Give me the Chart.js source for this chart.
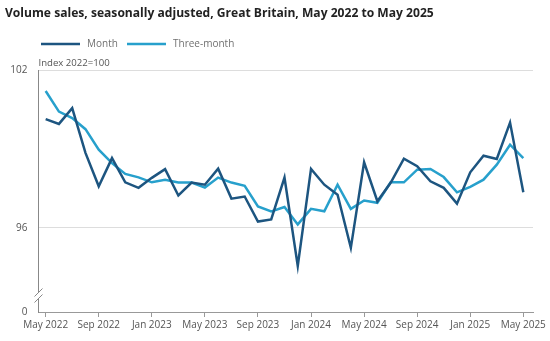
<!DOCTYPE html>
<html>
<head>
<meta charset="utf-8">
<script src="https://cdn.jsdelivr.net/npm/chart.js@4"></script>
<style>
  html, body { margin: 0; padding: 0; background: #fff; }
  #wrap { width: 550px; height: 341px; position: relative; }
</style>
</head>
<body>
<div id="wrap"><canvas id="c" width="550" height="341"></canvas></div>
<script>
// Monthly periods, May 2022 to May 2025
const months = [
  'May 2022','Jun 2022','Jul 2022','Aug 2022','Sep 2022','Oct 2022','Nov 2022','Dec 2022',
  'Jan 2023','Feb 2023','Mar 2023','Apr 2023','May 2023','Jun 2023','Jul 2023','Aug 2023',
  'Sep 2023','Oct 2023','Nov 2023','Dec 2023','Jan 2024','Feb 2024','Mar 2024','Apr 2024',
  'May 2024','Jun 2024','Jul 2024','Aug 2024','Sep 2024','Oct 2024','Nov 2024','Dec 2024',
  'Jan 2025','Feb 2025','Mar 2025','Apr 2025','May 2025'
];

// Volume index, 2022 = 100
const monthValues = [
  100.13, 99.95, 100.55, 98.85, 97.58, 98.65, 97.73, 97.52,
  97.90, 98.23, 97.23, 97.72, 97.64, 98.25, 97.11, 97.19,
  96.24, 96.32, 97.91, 94.55, 98.24, 97.64, 97.26, 95.24,
  98.49, 97.01, 97.71, 98.63, 98.34, 97.77, 97.52, 96.92,
  98.11, 98.74, 98.62, 100.00, 97.35
];
const threeMonthValues = [
  101.20, 100.42, 100.17, 99.75, 98.97, 98.46, 98.05, 97.92,
  97.73, 97.83, 97.72, 97.72, 97.53, 97.91, 97.72, 97.60,
  96.81, 96.62, 96.79, 96.13, 96.72, 96.63, 97.64, 96.72,
  97.04, 96.95, 97.73, 97.73, 98.21, 98.24, 97.93, 97.35,
  97.56, 97.83, 98.40, 99.16, 98.65
];

// Labelled x ticks (every fourth month) and y ticks
const xTickLabels = ['May 2022','Sep 2022','Jan 2023','May 2023','Sep 2023','Jan 2024','May 2024','Sep 2024','Jan 2025','May 2025'];
const yTickValues = [96, 102];
const yAxisBase = 92.8;   // bottom of the broken axis, labelled as zero

const COLOR_MONTH = '#1d5580';
const COLOR_THREE = '#27A0CC';
const FONT = '"Open Sans", "Noto Sans", sans-serif';

const toPoints = vals => vals.map((v, i) => ({ x: i, y: v }));

// Title, legend, unit label and the axis break mark
const decorations = {
  id: 'decorations',
  beforeDraw(chart) {
    const ctx = chart.ctx;
    ctx.save();
    ctx.fillStyle = '#fff';
    ctx.fillRect(0, 0, chart.width, chart.height);
    ctx.restore();
  },
  afterDraw(chart) {
    const ctx = chart.ctx;
    const area = chart.chartArea;
    const yScale = chart.scales.y;
    ctx.save();

    // Title
    ctx.fillStyle = '#222';
    ctx.font = 'bold 12.1px ' + FONT;
    ctx.textBaseline = 'middle';
    ctx.textAlign = 'left';
    ctx.fillText('Volume sales, seasonally adjusted, Great Britain, May 2022 to May 2025', 5, 14);

    // Legend
    const items = [
      { label: 'Month', color: COLOR_MONTH, x: 41 },
      { label: 'Three-month', color: COLOR_THREE, x: 127 }
    ];
    ctx.font = '10px ' + FONT;
    items.forEach(it => {
      ctx.strokeStyle = it.color;
      ctx.lineWidth = 2.5;
      ctx.beginPath();
      ctx.moveTo(it.x, 44);
      ctx.lineTo(it.x + 39, 44);
      ctx.stroke();
      ctx.fillStyle = '#707070';
      ctx.fillText(it.label, it.x + 46, 44);
    });

    // Unit label
    ctx.fillStyle = '#555';
    ctx.font = '9.6px ' + FONT;
    ctx.fillText('Index 2022=100', area.left, 63);

    // Break in the y axis
    const bx = area.left;
    const by = yScale.getPixelForValue(yAxisBase) - 16.5;
    ctx.fillStyle = '#fff';
    ctx.fillRect(bx - 2, by - 3, 4, 6);
    ctx.strokeStyle = '#888';
    ctx.lineWidth = 1;
    [-3, 3].forEach(d => {
      ctx.beginPath();
      ctx.moveTo(bx - 4, by + d + 4);
      ctx.lineTo(bx + 4, by + d - 4);
      ctx.stroke();
    });
    ctx.restore();
  }
};

new Chart(document.getElementById('c'), {
  type: 'line',
  data: {
    datasets: [
      {
        label: 'Month',
        data: toPoints(monthValues),
        borderColor: COLOR_MONTH,
        backgroundColor: COLOR_MONTH,
        borderWidth: 2.5,
        pointRadius: 0,
        tension: 0
      },
      {
        label: 'Three-month',
        data: toPoints(threeMonthValues),
        borderColor: COLOR_THREE,
        backgroundColor: COLOR_THREE,
        borderWidth: 2.5,
        pointRadius: 0,
        tension: 0
      }
    ]
  },
  options: {
    responsive: false,
    animation: false,
    devicePixelRatio: 1,
    layout: { padding: { top: 70, right: 17, bottom: 0, left: 0 } },
    plugins: {
      legend: { display: false },
      tooltip: { enabled: false }
    },
    scales: {
      x: {
        type: 'linear',
        min: -0.54,
        max: 36.73,
        afterBuildTicks(scale) {
          scale.ticks = xTickLabels.map(l => ({ value: months.indexOf(l) }));
        },
        afterFit(scale) { scale.height = 29; },
        ticks: {
          autoSkip: false,
          maxRotation: 0,
          padding: 2,
          color: '#555',
          font: { family: FONT, size: 10 },
          callback: v => months[v]
        },
        grid: {
          drawOnChartArea: false,
          drawTicks: true,
          tickLength: 5,
          color: '#999'
        },
        border: { display: true, color: '#999', width: 1 }
      },
      y: {
        min: yAxisBase,
        max: 102,
        afterBuildTicks(scale) {
          scale.ticks = [yAxisBase, ...yTickValues].map(v => ({ value: v }));
        },
        afterFit(scale) { scale.width = 38.5; },
        ticks: {
          padding: 11,
          color: '#555',
          font: { family: FONT, size: 10 },
          callback: v => (v === yAxisBase ? '0' : String(v))
        },
        grid: {
          drawTicks: false,
          color: ctx => (ctx.tick && ctx.tick.value === yAxisBase ? 'rgba(0,0,0,0)' : '#ddd'),
          lineWidth: 1
        },
        border: { display: true, color: '#888', width: 1 }
      }
    }
  },
  plugins: [decorations]
});
</script>
</body>
</html>
